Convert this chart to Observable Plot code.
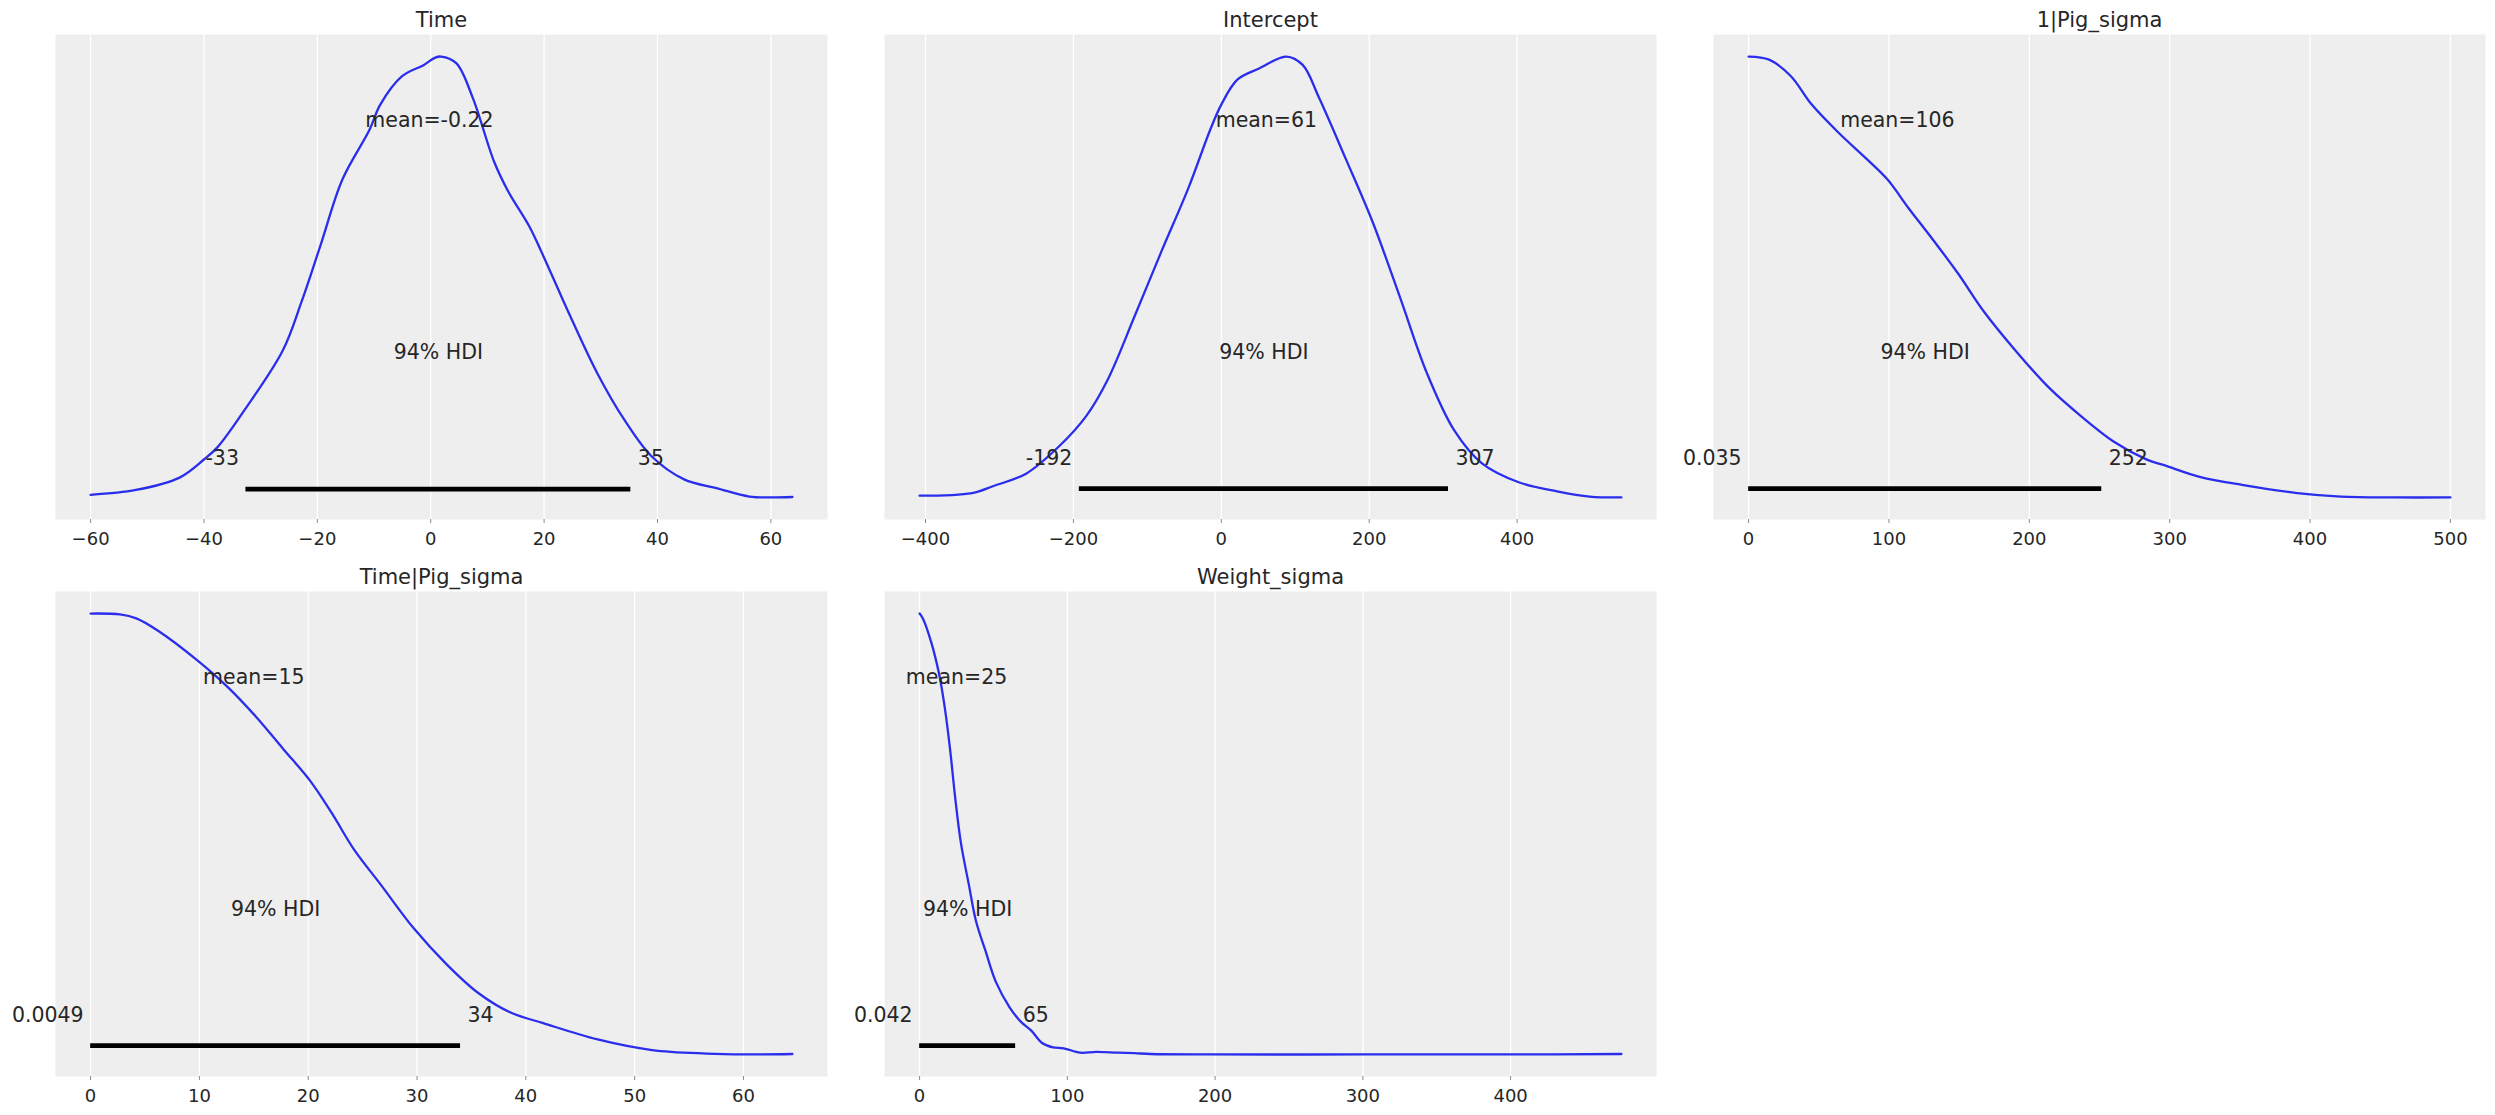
<!DOCTYPE html>
<html><head><meta charset="utf-8">
<script src="https://cdn.jsdelivr.net/npm/d3@7"></script>
<script src="https://cdn.jsdelivr.net/npm/@observablehq/plot@0.6"></script>
<style>
body{margin:0;background:#fff;}
#chart{position:relative;width:2495px;height:1115px;font-family:"DejaVu Sans";color:#262626;}
#chart svg{position:absolute;overflow:visible;background:transparent;}
</style></head><body><div id="chart"></div>
<script>
// ---- data ----
const titles = ["Time", "Intercept", "1|Pig_sigma", "Time|Pig_sigma", "Weight_sigma"];

// [value, relative density]
const timeCurve = [[-60,0.007],[-52,0.018],[-44.3,0.046],[-40,0.087],[-37.6,0.115],[-32.8,0.2],[-26.1,0.334],[-22.8,0.444],[-19.4,0.574],[-15.6,0.721],[-10.8,0.834],[-8.9,0.891],[-5.1,0.955],[-1.2,0.981],[0.7,0.997],[1.8,1.0],[4.5,0.985],[7.4,0.907],[11.2,0.761],[13.6,0.696],[17.4,0.615],[19.8,0.55],[24.6,0.412],[29.4,0.282],[34.2,0.176],[38.9,0.095],[44.7,0.042],[50.4,0.022],[56.2,0.003],[60,0.001],[63.8,0.002]];
const interceptCurve = [[-408,0.004],[-337,0.01],[-308,0.026],[-264,0.054],[-220,0.115],[-183,0.184],[-154,0.266],[-117,0.412],[-81,0.558],[-44,0.704],[-15,0.834],[0,0.891],[22,0.948],[51,0.973],[88,1.0],[110,0.981],[132,0.907],[168,0.769],[205,0.623],[242,0.452],[278,0.282],[315,0.152],[352,0.078],[403,0.034],[454,0.014],[498,0.002],[541,0.0]];
const pigSigmaCurve = [[0,1.0],[14.6,0.993],[30,0.956],[45,0.891],[64.5,0.826],[83.7,0.769],[99,0.721],[114,0.656],[130,0.59],[149,0.509],[168,0.42],[191,0.33],[214,0.249],[237,0.184],[260,0.127],[283,0.087],[299,0.07],[322,0.046],[352.5,0.028],[391,0.01],[422,0.002],[460,0.0],[500,0.0]];
const timePigSigmaCurve = [[0,1.0],[2.7,0.998],[4.2,0.989],[6.2,0.961],[9.7,0.896],[12.7,0.831],[15.2,0.766],[17.7,0.693],[20.2,0.62],[22.2,0.546],[24.2,0.465],[26.7,0.384],[29.7,0.286],[32.7,0.205],[35.6,0.14],[38.6,0.095],[41.6,0.071],[46.6,0.034],[51.6,0.01],[56.6,0.002],[60,0.0],[64.5,0.001]];
const weightSigmaCurve = [[0,1.0],[2.2,0.989],[7.7,0.937],[13.2,0.863],[16.9,0.79],[20.6,0.693],[24.2,0.579],[27.9,0.481],[33.4,0.384],[38.2,0.302],[44.4,0.237],[51.7,0.164],[60.9,0.107],[68.3,0.075],[75.6,0.054],[82.9,0.026],[90.3,0.016],[97.6,0.014],[108.6,0.004],[119.6,0.006],[134.3,0.004],[145.3,0.003],[156.3,0.001],[196.7,0.0],[300,0.0],[400,0.0],[475,0.001]];

const means = [-0.22, 61, 106, 15, 25];
const meanLabels = ["mean=-0.22", "mean=61", "mean=106", "mean=15", "mean=25"];
const hdiLow = [-32.6, -192, 0.035, 0.0049, 0.042];
const hdiHigh = [35.3, 307.2, 251.6, 34.0, 65.0];
const hdiLowLabels = ["-33", "-192", "0.035", "0.0049", "0.042"];
const hdiHighLabels = ["35", "307", "252", "34", "65"];
const hdiText = "94% HDI";
const xTicks = [
  [-60, -40, -20, 0, 20, 40, 60],
  [-400, -200, 0, 200, 400],
  [0, 100, 200, 300, 400, 500],
  [0, 10, 20, 30, 40, 50, 60],
  [0, 100, 200, 300, 400]
];

// ---- layout ----
const curves = [timeCurve, interceptCurve, pigSigmaCurve, timePigSigmaCurve, weightSigmaCurve];
const panelLeft = [55, 884, 1713, 55, 884];
const panelTop = [34, 34, 34, 591, 591];
const panelW = 772, panelH = 485;
const mL = 55, mR = 10, mT = 34, mB = 36;
const lineColor = "#2a2eec";
const textColor = "#262626";

const chart = document.getElementById("chart");

curves.forEach((c, i) => {
  const data = c.map(([x, d]) => ({x, d}));
  const [x0, x1] = d3.extent(data, p => p.x);
  const xr = x1 - x0;
  const yMax = d3.max(data, p => p.d);
  const barY = 0.02 * yMax;
  const yMin = Math.min(d3.min(data, p => p.d), barY);
  const yr = yMax - yMin;
  const plotHeight = yMax + 0.05 * yr;

  const svg = Plot.plot({
    width: panelW + mL + mR,
    height: panelH + mT + mB,
    marginLeft: mL, marginRight: mR, marginTop: mT, marginBottom: mB,
    x: {domain: [x0 - 0.05 * xr, x1 + 0.05 * xr], label: null},
    y: {domain: [yMin - 0.05 * yr, plotHeight], axis: null},
    style: {fontFamily: "DejaVu Sans", color: textColor, background: "transparent", overflow: "visible"},
    marks: [
      Plot.frame({fill: "#eeeeee", stroke: "none"}),
      Plot.gridX(xTicks[i], {stroke: "white", strokeOpacity: 1, strokeWidth: 1.3}),
      Plot.axisX(xTicks[i], {tickSize: 4, tickPadding: 9, fontSize: 18, stroke: "#8a8a8a", fill: textColor, label: null}),
      Plot.line(data, {x: "x", y: "d", stroke: lineColor, strokeWidth: 2.3, curve: "catmull-rom"}),
      Plot.ruleY([{lo: hdiLow[i], hi: hdiHigh[i], y: barY}], {x1: "lo", x2: "hi", y: "y", stroke: "black", strokeWidth: 4.8}),
      Plot.text([{x: means[i], y: 0.8 * plotHeight, t: meanLabels[i]}], {x: "x", y: "y", text: "t", textAnchor: "middle", lineAnchor: "bottom", fontSize: 20.5, fill: textColor}),
      Plot.text([{x: (hdiLow[i] + hdiHigh[i]) / 2, y: 0.3 * plotHeight, t: hdiText}], {x: "x", y: "y", text: "t", textAnchor: "middle", lineAnchor: "bottom", fontSize: 20.5, fill: textColor}),
      Plot.text([{x: hdiLow[i], y: 0.07 * plotHeight, t: hdiLowLabels[i]}], {x: "x", y: "y", text: "t", textAnchor: "end", lineAnchor: "bottom", dx: -7, fontSize: 20.5, fill: textColor}),
      Plot.text([{x: hdiHigh[i], y: 0.07 * plotHeight, t: hdiHighLabels[i]}], {x: "x", y: "y", text: "t", textAnchor: "start", lineAnchor: "bottom", dx: 7, fontSize: 20.5, fill: textColor}),
      Plot.text([titles[i]], {frameAnchor: "top", lineAnchor: "bottom", dy: -8, fontSize: 21, fill: textColor})
    ]
  });
  svg.style.left = (panelLeft[i] - mL) + "px";
  svg.style.top = (panelTop[i] - mT) + "px";
  svg.style.maxWidth = "none";
  chart.appendChild(svg);
});
</script>
</body></html>
